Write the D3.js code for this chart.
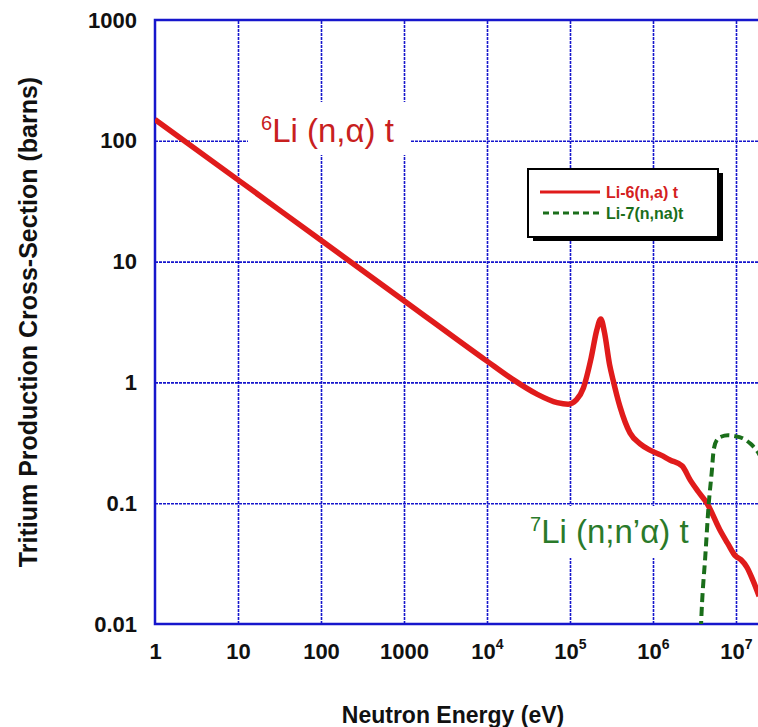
<!DOCTYPE html>
<html>
<head>
<meta charset="utf-8">
<script src="https://cdn.jsdelivr.net/npm/d3@7"></script>
<style>
  body { margin: 0; background: #fff; }
  svg { display: block; font-family: "Liberation Sans", Arial, sans-serif; }
</style>
</head>
<body>
<svg id="chart"></svg>
<script>
const width = 758;
const height = 727;

// tick values and labels
const xTicks = [1, 10, 100, 1000, 1e4, 1e5, 1e6, 1e7];
const xTickLabels = ['1', '10', '100', '1000', '10^4', '10^5', '10^6', '10^7'];
const yTicks = [0.01, 0.1, 1, 10, 100, 1000];
const yTickLabels = ['0.01', '0.1', '1', '10', '100', '1000'];

// Li-6(n,a) t  [energy eV, barns]
const li6Energy = [1, 10, 100, 1000, 1e4, 2e4, 4e4, 7e4, 9.5e4, 1.2e5, 1.45e5, 1.8e5, 2.1e5, 2.35e5,
    2.6e5, 3e5, 3.3e5, 4e5, 5.3e5, 7e5, 9.2e5, 1.25e6, 1.6e6, 2.25e6, 2.8e6, 3.5e6, 4.47e6, 6.4e6,
    8e6, 9.7e6, 1.15e7, 1.35e7, 1.6e7, 1.9e7];
const li6Sigma = [150, 47.5, 15, 4.75, 1.5, 1.07, 0.8, 0.68, 0.66, 0.72, 0.9, 1.6, 2.7, 3.35,
    2.6, 1.4, 1.05, 0.63, 0.38, 0.31, 0.275, 0.25, 0.228, 0.203, 0.156, 0.125, 0.1, 0.06,
    0.046, 0.037, 0.034, 0.0296, 0.023, 0.017];

// Li-7(n,na)t
const li7Energy = [3.6e6, 3.9e6, 4.25e6, 4.7e6, 5.1e6, 5.4e6, 6.0e6, 6.6e6, 8e6, 9.5e6, 1.2e7, 1.5e7, 1.8e7, 2e7];
const li7Sigma = [0.004, 0.015, 0.035, 0.1, 0.18, 0.28, 0.34, 0.355, 0.365, 0.36, 0.345, 0.31, 0.27, 0.24];

const blue = '#1616cc';
const red = '#e01b1b';
const green = '#1a6e1a';

const plotLeft = 155, plotTop = 20, plotBottom = 624;

const svg = d3.select('#chart').attr('width', width).attr('height', height);

const x = d3.scaleLog().domain([1, 1e8]).range([plotLeft, plotLeft + 8 * 83]);
const y = d3.scaleLog().domain([0.01, 1000]).range([plotBottom, plotTop]);

svg.append('defs').append('clipPath').attr('id', 'plot')
    .append('rect').attr('x', plotLeft).attr('y', plotTop)
    .attr('width', width - plotLeft).attr('height', plotBottom - plotTop);

// grid
svg.append('g')
    .attr('transform', `translate(0,${plotBottom})`)
    .call(d3.axisBottom(x).tickValues(xTicks.slice(1)).tickSize(-(plotBottom - plotTop)).tickFormat(''))
    .call(g => g.select('.domain').remove())
    .call(g => g.selectAll('line').attr('stroke', blue).attr('stroke-width', 1.6).attr('stroke-dasharray', '3,1'));

svg.append('g')
    .attr('transform', `translate(${plotLeft},0)`)
    .call(d3.axisLeft(y).tickValues(yTicks.slice(1, -1)).tickSize(-(width - plotLeft)).tickFormat(''))
    .call(g => g.select('.domain').remove())
    .call(g => g.selectAll('line').attr('stroke', blue).attr('stroke-width', 1.6).attr('stroke-dasharray', '3,1'));

// frame
svg.append('path')
    .attr('d', `M${width},${plotTop}H${plotLeft}V${plotBottom}H${width}`)
    .attr('fill', 'none').attr('stroke', blue).attr('stroke-width', 2.5);

// tick labels
const yAxis = svg.append('g')
    .attr('transform', `translate(${plotLeft},0)`)
    .call(d3.axisLeft(y).tickValues(yTicks).tickSize(0).tickPadding(18)
        .tickFormat((d, i) => yTickLabels[i]));
yAxis.select('.domain').remove();
yAxis.selectAll('text').attr('font-size', 22).attr('font-weight', 'bold').attr('fill', '#111')
    .attr('font-family', '"Liberation Sans", Arial, sans-serif');

const xAxis = svg.append('g')
    .attr('transform', `translate(0,${plotBottom})`)
    .call(d3.axisBottom(x).tickValues(xTicks).tickSize(0).tickPadding(19).tickFormat(''));
xAxis.select('.domain').remove();
xAxis.selectAll('text')
    .attr('font-size', 22).attr('font-weight', 'bold').attr('fill', '#111')
    .attr('font-family', '"Liberation Sans", Arial, sans-serif')
    .each(function (d, i) {
        const t = d3.select(this);
        const [base, exp] = xTickLabels[i].split('^');
        t.append('tspan').text(base);
        if (exp) t.append('tspan').attr('dy', -10).attr('font-size', 14).text(exp);
    });

// white label boxes
svg.append('rect').attr('x', 248).attr('y', 102).attr('width', 162).attr('height', 53).attr('fill', '#fff');
svg.append('rect').attr('x', 520).attr('y', 506).attr('width', 178).attr('height', 52).attr('fill', '#fff');

// curves
const line = d3.line().x(d => x(d[0])).y(d => y(d[1])).curve(d3.curveMonotoneX);
const plot = svg.append('g').attr('clip-path', 'url(#plot)');

plot.append('path')
    .datum(li6Energy.map((e, i) => [e, li6Sigma[i]]))
    .attr('d', line)
    .attr('fill', 'none').attr('stroke', red).attr('stroke-width', 5.5).attr('stroke-linejoin', 'round');

plot.append('path')
    .datum(li7Energy.map((e, i) => [e, li7Sigma[i]]))
    .attr('d', line)
    .attr('fill', 'none').attr('stroke', green).attr('stroke-width', 4).attr('stroke-dasharray', '9,5');

// reaction labels
const lab6 = svg.append('text').attr('x', 261).attr('y', 142).attr('fill', '#c8201e').attr('font-size', 33);
lab6.append('tspan').attr('font-size', 20).attr('dy', -12).text('6');
lab6.append('tspan').attr('dy', 12).text('Li (n,α) t');

const lab7 = svg.append('text').attr('x', 530).attr('y', 543).attr('fill', '#2a7a2a').attr('font-size', 33);
lab7.append('tspan').attr('font-size', 20).attr('dy', -12).text('7');
lab7.append('tspan').attr('dy', 12).text('Li (n;n’α) t');

// legend
const legend = svg.append('g');
legend.append('rect').attr('x', 533).attr('y', 173).attr('width', 190).attr('height', 68).attr('fill', '#000');
legend.append('rect').attr('x', 528).attr('y', 169).attr('width', 190).attr('height', 68)
    .attr('fill', '#fff').attr('stroke', '#000').attr('stroke-width', 2);
legend.append('line').attr('x1', 540).attr('x2', 600).attr('y1', 192).attr('y2', 192)
    .attr('stroke', red).attr('stroke-width', 3);
legend.append('line').attr('x1', 543).attr('x2', 600).attr('y1', 213).attr('y2', 213)
    .attr('stroke', green).attr('stroke-width', 3).attr('stroke-dasharray', '6,4');
legend.append('text').attr('x', 606).attr('y', 198).attr('fill', '#d42020')
    .attr('font-size', 16).attr('font-weight', 'bold').text('Li-6(n,a) t');
legend.append('text').attr('x', 606).attr('y', 219).attr('fill', green)
    .attr('font-size', 16).attr('font-weight', 'bold').text('Li-7(n,na)t');

// axis titles
svg.append('text').attr('x', 453).attr('y', 723).attr('text-anchor', 'middle')
    .attr('font-size', 23).attr('font-weight', 'bold').attr('fill', '#111').text('Neutron Energy (eV)');
svg.append('text').attr('transform', 'translate(37,322) rotate(-90)').attr('text-anchor', 'middle')
    .attr('font-size', 25).attr('font-weight', 'bold').attr('fill', '#111')
    .text('Tritium Production Cross-Section (barns)');
</script>
</body>
</html>
